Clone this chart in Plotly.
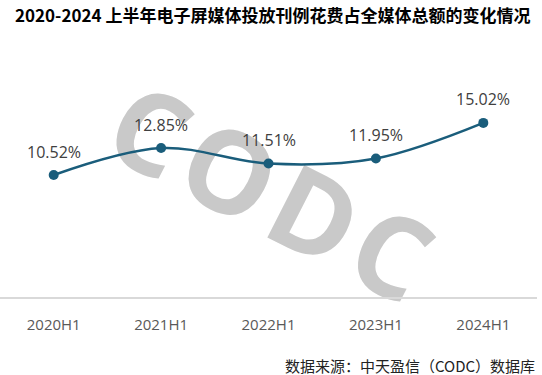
import plotly.graph_objects as go

categories = ["2020H1", "2021H1", "2022H1", "2023H1", "2024H1"]
values = [10.52, 12.85, 11.51, 11.95, 15.02]
labels = ["10.52%", "12.85%", "11.51%", "11.95%", "15.02%"]

title_text = "2020-2024 上半年电子屏媒体投放刊例花费占全媒体总额的变化情况"
source_text = "数据来源：中天盈信（CODC）数据库"
watermark_letters = ["C", "O", "D", "C"]

line_color = "#1a5d7b"

fig = go.Figure()
fig.add_trace(go.Scatter(
    x=categories, y=values,
    mode="lines+markers",
    line=dict(color=line_color, width=2.5, shape="spline", smoothing=1),
    marker=dict(color=line_color, size=10),
    hoverinfo="skip",
    cliponaxis=False,
))

gap = "<span style='font-size:30px'> </span>"
watermark = gap.join(watermark_letters)

# watermark drawn below the data
fig.add_shape(
    type="rect", xref="paper", yref="paper",
    x0=0.2, x1=0.8, y0=0.089, y1=0.689,
    line=dict(width=0), fillcolor="rgba(0,0,0,0)",
    layer="below",
    label=dict(text=watermark, textangle=27, textposition="middle center",
               font=dict(family="Open Sans", size=114, color="#c9c9c9", weight="bold")),
)

annots = []
for c, v, t in zip(categories, values, labels):
    annots.append(dict(
        x=c, y=v, text=t, showarrow=False, xanchor="center", yanchor="middle",
        yshift=23.5,
        font=dict(family="Open Sans, Noto Sans CJK SC", size=16, color="#404040"),
    ))
annots.append(dict(text=title_text, xref="paper", yref="paper", x=0.024, y=1,
                   xanchor="left", yanchor="middle", showarrow=False, yshift=26,
                   font=dict(family="Noto Sans CJK SC", size=17, color="#000000", weight="bold")))
annots.append(dict(text=source_text, xref="paper", yref="paper", x=1.0, y=0,
                   xanchor="right", yanchor="middle", showarrow=False, yshift=-68,
                   font=dict(family="Noto Sans CJK SC", size=15, color="#222222")))

fig.update_layout(
    width=542, height=375,
    margin=dict(l=0, r=5, t=40, b=78, autoexpand=False),
    paper_bgcolor="white", plot_bgcolor="white",
    showlegend=False,
    xaxis=dict(
        type="category", range=[-0.5, 4.5], automargin=False,
        showgrid=False, zeroline=False,
        showline=True, linecolor="#d9d9d9", linewidth=1.5,
        ticks="", ticklabelstandoff=13,
        tickfont=dict(family="Open Sans, Noto Sans CJK SC", size=15, color="#595959"),
    ),
    yaxis=dict(range=[0, 22.17], visible=False, showgrid=False, zeroline=False,
               automargin=False),
    annotations=annots,
)

fig.write_html("out.html", config={"displayModeBar": False},
               post_script="document.body.style.margin='0';document.body.style.overflow='hidden';")
